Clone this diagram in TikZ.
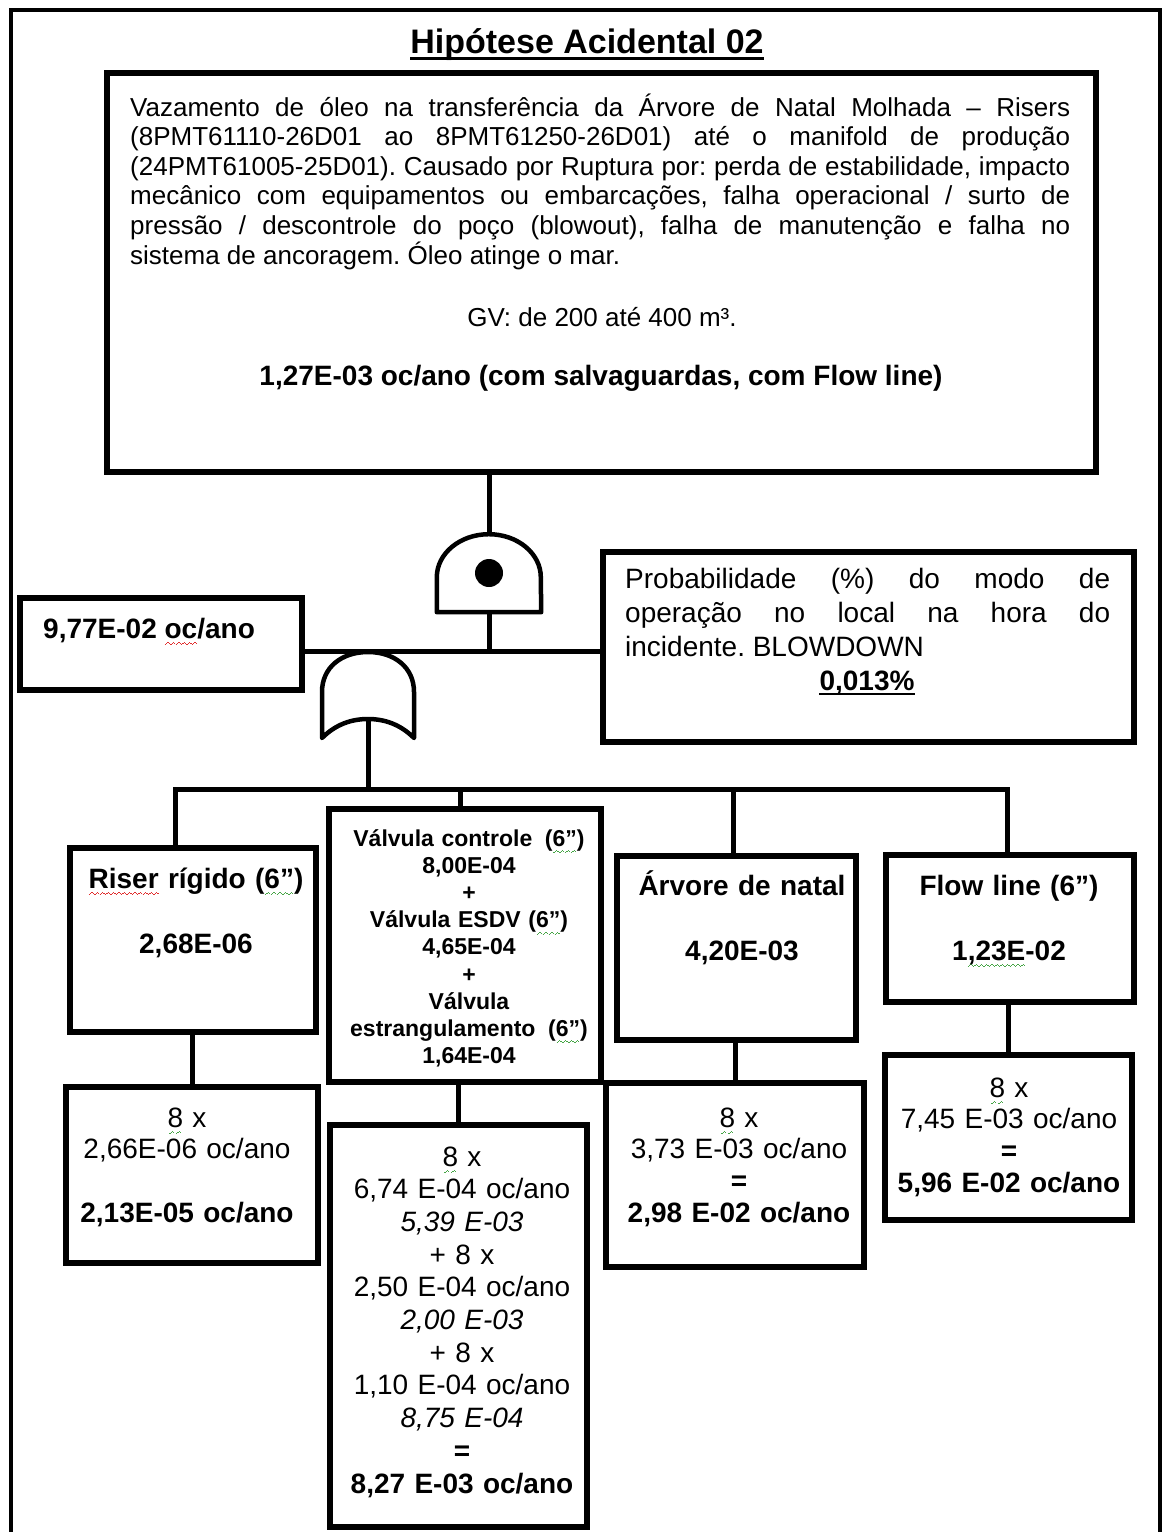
\documentclass[tikz,border=0pt]{standalone}
\usepackage{fontspec}
\setmainfont{Liberation Sans}
\usetikzlibrary{calc}

\definecolor{spellred}{RGB}{225,45,45}
\definecolor{grammargreen}{RGB}{70,165,70}

% wavy proofing marks under words, built from tiny rules
\newsavebox\wavebox
\newcommand\wavestep{\rule[-7pt]{1.3pt}{1.1pt}\rule[-6pt]{1.3pt}{1.1pt}\rule[-5pt]{1.3pt}{1.1pt}\rule[-6pt]{1.3pt}{1.1pt}}
\newcommand\wavy[2]{\sbox\wavebox{#2}%
  \rlap{\smash{\color{#1}\xleaders\hbox{\wavestep}\hskip\wd\wavebox}}%
  \usebox\wavebox}
\newcommand\redwave[1]{\wavy{spellred}{#1}}
\newcommand\greenwave[1]{\wavy{grammargreen}{#1}}

\newcommand\fpara{\fontsize{26}{29.6}\selectfont}
\newcommand\fbig{\fontsize{28}{32}\selectfont}
\newcommand\fvalv{\fontsize{23}{27.2}\selectfont\bfseries}
\newcommand\ftitle{\fontsize{34}{38}\selectfont\bfseries}

\begin{document}
\frenchspacing
\begin{tikzpicture}[x=1pt, y=-1pt,
  frame/.style 2 args={draw=black, line width=5.5pt, minimum width=#1, minimum height=#2, inner sep=0pt, outer sep=0pt},
  wire/.style={line width=5pt},
  gate/.style={line width=4.5pt, line join=round},
  txt/.style={inner sep=0pt, font=\fbig},
  ctxt/.style={txt, align=center, text width=#1, anchor=base}
]
\fill[white] (0,0) rectangle (1164,1532);
\useasboundingbox (0,0) rectangle (1164,1532);

% page frame
\draw[line width=4.5pt] (11,1545) -- (11,10) -- (1160,10) -- (1160,1545);

% title
\node[txt, font=\ftitle, anchor=base] (title) at (587,53) {Hipótese Acidental 02};
\draw[line width=3pt] ([yshift=-5pt]title.base west) -- ([yshift=-5pt]title.base east);

% top event
\node[frame={989}{399}] (mainbox) at (601.5,272.5) {};
\node[txt, font=\fpara, text width=940pt, align=justify, anchor=base west] (para) at (130,116)
  {\frenchspacing\hyphenpenalty10000\exhyphenpenalty10000
   Vazamento de óleo na transferência da Árvore de Natal Molhada – Risers\linebreak
   (8PMT61110-26D01 ao 8PMT61250-26D01) até o manifold de produção\linebreak
   (24PMT61005-25D01). Causado por Ruptura por: perda de estabilidade, impacto\linebreak
   mecânico com equipamentos ou embarcações, falha operacional / surto de\linebreak
   pressão / descontrole do poço (blowout), falha de manutenção e falha no\linebreak
   sistema de ancoragem. Óleo atinge o mar.};
\node[txt, font=\fpara, anchor=base] (gv) at (602,326) {GV: de 200 até 400 m³.};
\node[txt, font=\fbig\bfseries, anchor=base] (freq) at (601,385)
  {1,27E-03 oc/ano (com salvaguardas, com Flow line)};

% AND gate
\node[minimum width=104, minimum height=78, inner sep=0pt] (andg) at (489,573) {};
\draw[gate] (andg.south west) -- ++(0,-35)
  arc[start angle=180, end angle=360, x radius=52, y radius=43]
  -- (andg.south east) -- cycle;
\fill (andg.center) circle[radius=14];

% frequency box and condition box
\node[frame={282}{92}] (rate) at (161,644) {};
\node[txt, font=\fbig\bfseries, anchor=base west] (rateT) at (43,638) {9,77E-02 \redwave{oc}/ano};

\node[frame={531}{190}] (prob) at (868.5,647) {};
\node[txt, font=\fontsize{28}{34}\selectfont, text width=485pt, align=justify, anchor=base west] (probT) at (625,588)
  {\frenchspacing\hyphenpenalty10000 Probabilidade (\%) do modo de\linebreak
   operação no local na hora do\linebreak
   incidente. BLOWDOWN};
\node[txt, font=\fbig\bfseries, anchor=base] (pct) at (867,690) {0,013\%};
\draw[line width=2.5pt] ([yshift=-4pt]pct.base west) -- ([yshift=-4pt]pct.base east);

\coordinate (jct) at (489,651);
\draw[wire] (andg.north |- mainbox.south) -- (andg.north);
\draw[wire] (andg.south) -- (jct);
\draw[wire] (rate.east |- jct) -- (prob.west |- jct);

% OR gate
\node[minimum width=92, minimum height=86, inner sep=0pt] (org) at (368,695) {};
\begin{scope}[shift={(org.center)}]
  \draw[gate] (-46,43) -- (-46,-3)
    .. controls (-46,-28) and (-26,-43) .. (0,-43)
    .. controls (26,-43) and (46,-28) .. (46,-3)
    -- (46,43)
    .. controls (32,29) and (16,24) .. (0,24)
    .. controls (-16,24) and (-32,29) .. (-46,43) -- cycle;
  \coordinate (orout) at (0,24);
\end{scope}

% basic events
\node[frame={246}{184}] (riser) at (193,940) {};
\node[frame={272}{273}] (valv)  at (465,945.5) {};
\node[frame={239}{184}] (arv)   at (736.5,948) {};
\node[frame={248}{147}] (flow)  at (1010,928.5) {};

\node[ctxt=240pt, font=\fbig\bfseries] (riserT) at (196,888)
  {\redwave{Riser} rígido (\greenwave{6”})\\[33pt]2,68E-06};
\node[ctxt=268pt, font=\fvalv] (valvT) at (469,846)
  {Válvula controle\hspace{5pt} (\greenwave{6”})\\
   8,00E-04\\
   +\\
   Válvula ESDV (\greenwave{6”})\\
   4,65E-04\\
   +\\
   Válvula\\
   estrangulamento\hspace{5pt} (\greenwave{6”})\\
   1,64E-04};
\node[ctxt=235pt, font=\fbig\bfseries] (arvT) at (742,895)
  {Árvore de natal\\[33pt]4,20E-03};
\node[ctxt=240pt, font=\fbig\bfseries] (flowT) at (1009,895)
  {Flow line (6”)\\[33pt]1\greenwave{,23E}-02};

% bus from the OR gate
\coordinate (d1) at (175,789);
\coordinate (d2) at (460,789);
\coordinate (d3) at (733,789);
\coordinate (d4) at (1007,789);
\draw[wire] (orout) -- (orout |- d1);
\draw[wire] (d1 |- riser.north) -- (d1) -- (d4) -- (d4 |- flow.north);
\draw[wire] (d2) -- (d2 |- valv.north);
\draw[wire] (d3) -- (d3 |- arv.north);

% multiplied frequencies
\node[frame={252}{176}] (riserL) at (192,1175) {};
\node[frame={257}{402}] (valvL)  at (458.5,1326) {};
\node[frame={258}{184}] (arvL)   at (735,1175) {};
\node[frame={247}{165}] (flowL)  at (1008.5,1137.5) {};

\draw[wire] (riserL.north |- riser.south) -- (riserL.north);
\draw[wire] (valvL.north |- valv.south) -- (valvL.north);
\draw[wire] (arvL.north |- arv.south) -- (arvL.north);
\draw[wire] (flowL.north |- flow.south) -- (flowL.north);

\node[ctxt=245pt, font=\fontsize{28}{31.7}\selectfont] (riserLT) at (187,1127)
  {\greenwave{8} x\\
   2,66E-06 oc/ano\\[31.7pt]
   \textbf{2,13E-05 oc/ano}};
\node[ctxt=250pt, font=\fontsize{28}{32.7}\selectfont] (valvLT) at (462,1166)
  {\greenwave{8} x\\
   6,74 E-04 oc/ano\\
   \textit{5,39 E-03}\\
   + 8 x\\
   2,50 E-04 oc/ano\\
   \textit{2,00 E-03}\\
   + 8 x\\
   1,10 E-04 oc/ano\\
   \textit{8,75 E-04}\\
   \textbf{=}\\
   \textbf{8,27 E-03 oc/ano}};
\node[ctxt=250pt, font=\fontsize{28}{31.7}\selectfont] (arvLT) at (739,1127)
  {\greenwave{8} x\\
   3,73 E-03 oc/ano\\
   \textbf{=}\\
   \textbf{2,98 E-02 oc/ano}};
\node[ctxt=240pt, font=\fontsize{28}{31.7}\selectfont] (flowLT) at (1009,1097)
  {\greenwave{8} x\\
   7,45 E-03 oc/ano\\
   \textbf{=}\\
   \textbf{5,96 E-02 oc/ano}};
\end{tikzpicture}
\end{document}
